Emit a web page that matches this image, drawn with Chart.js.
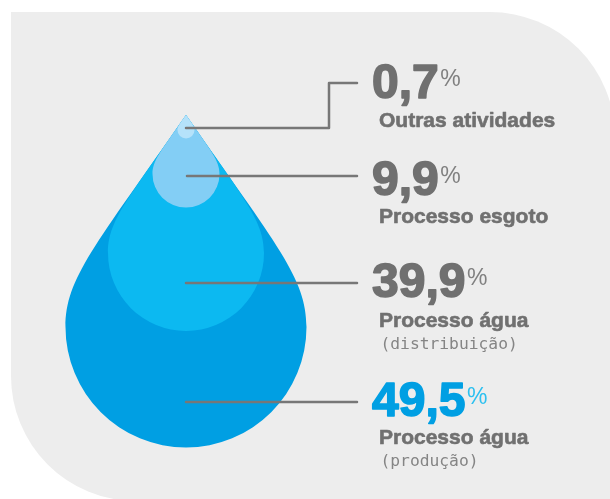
<!DOCTYPE html>
<html lang="pt">
<head>
<meta charset="utf-8">
<title>Consumo por processo</title>
<script src="https://cdn.jsdelivr.net/npm/chart.js@4"></script>
<style>
  html, body { margin: 0; padding: 0; background: #fff; }
  canvas { display: block; }
</style>
</head>
<body>
<canvas id="chart" width="610" height="499"></canvas>
<script>
'use strict'

// values, innermost drop first
const categories = ['Outras atividades', 'Processo esgoto', 'Processo água', 'Processo água'];
const notes = ['', '', '(distribuição)', '(produção)'];
const shares = [0.7, 9.9, 39.9, 49.5];

// layout, in page pixels (the scales run 0-610 and 0-499)
const dropX = 186;
const dropTipY = 115;
const dropCenterY = [130, 174, 253, 327];
const dropRadius = [8.5, 33.5, 78, 120.5];
const dropColors = ['#b5e2fa', '#83cef5', '#0cb9f1', '#009fe3'];
const leaderX = [[186, 329, 329, 357], [187, 357], [186, 357], [186, 357]];
const leaderY = [[128, 128, 83, 83], [176, 176], [283, 283], [402, 402]];
const valueBaseline = [98, 195, 297, 416];
const labelBaseline = [127, 223, 327, 444];
const noteBaseline = [0, 0, 349, 466];
const valueColors = ['#707070', '#707070', '#707070', '#009fe3'];
const percentColors = ['#808080', '#808080', '#808080', '#2cc0f0'];

const GREY = '#707070';

// big drop is painted first so the smaller ones sit on top of it
function drawDrops(chart) {
  const {ctx} = chart;
  const meta = chart.getDatasetMeta(0);
  const tip = chart.scales.y.getPixelForValue(dropTipY);
  for (let i = meta.data.length - 1; i >= 0; i--) {
    const {x, y} = meta.data[i];
    const r = dropRadius[i];
    const h = y - tip;
    const dy = 0.62 * h;
    const dx = 0.695 * dy;
    ctx.beginPath();
    ctx.moveTo(x, tip);
    ctx.bezierCurveTo(x + dx, tip + dy, x + r, y - 0.23 * h, x + r, y);
    ctx.arc(x, y, r, 0, Math.PI);
    ctx.bezierCurveTo(x - r, y - 0.23 * h, x - dx, tip + dy, x, tip);
    ctx.closePath();
    ctx.fillStyle = dropColors[i];
    ctx.fill();
  }
}

const panelPlugin = {
  id: 'panel',
  beforeDraw(chart) {
    const {ctx} = chart;
    ctx.save();
    ctx.beginPath();
    ctx.moveTo(11, 12);
    ctx.lineTo(490, 12);
    ctx.arc(490, 137, 125, -Math.PI / 2, 0);
    ctx.lineTo(615, 501);
    ctx.lineTo(136, 501);
    ctx.arc(136, 376, 125, Math.PI / 2, Math.PI);
    ctx.closePath();
    ctx.fillStyle = '#ededed';
    ctx.fill();
    ctx.restore();
  },
  beforeDatasetsDraw(chart) {
    chart.ctx.save();
    drawDrops(chart);
    chart.ctx.restore();
  },
  afterDraw(chart) {
    const {ctx} = chart;
    ctx.save();
    ctx.textAlign = 'left';
    ctx.textBaseline = 'alphabetic';
    shares.forEach((share, i) => {
      const value = share.toFixed(1).replace('.', ',');
      ctx.font = 'bold 48px "Liberation Sans"';
      ctx.fillStyle = valueColors[i];
      ctx.strokeStyle = valueColors[i];
      ctx.lineWidth = 1.6;
      ctx.lineJoin = 'round';
      ctx.fillText(value, 372, valueBaseline[i]);
      ctx.strokeText(value, 372, valueBaseline[i]);
      const end = 372 + ctx.measureText(value).width;

      ctx.font = '23px "Liberation Sans"';
      ctx.fillStyle = percentColors[i];
      ctx.fillText('%', end + 1.5, valueBaseline[i] - 12);

      ctx.font = 'bold 21px "Liberation Sans"';
      ctx.fillStyle = GREY;
      ctx.strokeStyle = GREY;
      ctx.lineWidth = 0.6;
      ctx.fillText(categories[i], 379, labelBaseline[i]);
      ctx.strokeText(categories[i], 379, labelBaseline[i]);

      if (notes[i]) {
        ctx.font = '16.3px "DejaVu Sans Mono"';
        ctx.fillStyle = '#858585';
        ctx.fillText(notes[i], 380.5, noteBaseline[i]);
      }
    });
    ctx.restore();
  }
};

const datasets = [{
  type: 'bubble',
  label: 'Gotas',
  data: shares.map((share, i) => ({x: dropX, y: dropCenterY[i], r: dropRadius[i], share})),
  backgroundColor: 'transparent',
  borderWidth: 0
}];

leaderX.forEach((xs, i) => {
  datasets.push({
    type: 'scatter',
    label: categories[i],
    data: xs.map((x, j) => ({x, y: leaderY[i][j]})),
    showLine: true,
    tension: 0,
    borderColor: '#777777',
    borderWidth: 2.5,
    borderJoinStyle: 'round',
    borderCapStyle: 'round',
    pointRadius: 0
  });
});

new Chart(document.getElementById('chart'), {
  data: {datasets},
  options: {
    responsive: false,
    animation: false,
    layout: {padding: 0, autoPadding: false},
    plugins: {legend: {display: false}, tooltip: {enabled: false}},
    scales: {
      x: {type: 'linear', display: false, min: 0, max: 610},
      y: {type: 'linear', display: false, min: 0, max: 499, reverse: true}
    }
  },
  plugins: [panelPlugin]
});
</script>
</body>
</html>
